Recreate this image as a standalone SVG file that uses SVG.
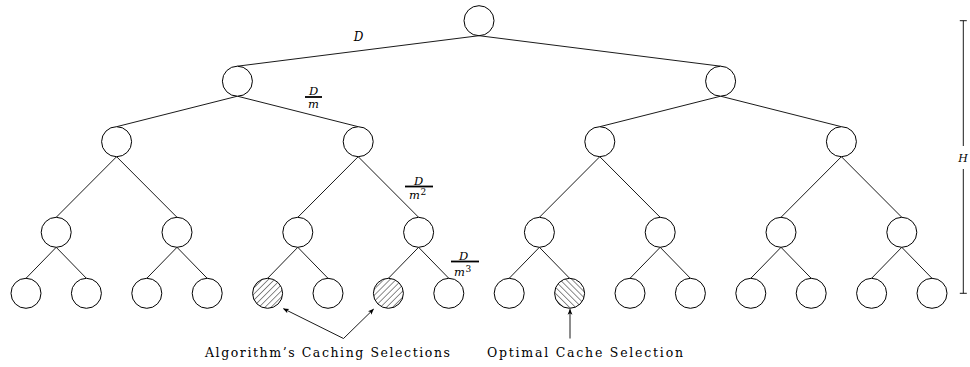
<svg xmlns="http://www.w3.org/2000/svg" width="970" height="367" viewBox="0 0 970 367">
<style>
.n{fill:#fff;stroke:#000;stroke-width:1}
.ne{fill:url(#hne);stroke:#000;stroke-width:1}
.nw{fill:url(#hnw);stroke:#000;stroke-width:1}
.e{stroke:#000;stroke-width:0.9;fill:none}
.m{font-family:"DejaVu Serif","Liberation Serif",serif;font-style:italic;fill:#000;text-anchor:middle}
.s{font-family:"DejaVu Serif","Liberation Serif",serif;fill:#000;text-anchor:start}
.t{font-family:"DejaVu Serif","Liberation Serif",serif;font-size:12.5px;fill:#000;text-anchor:middle}
.bar{stroke:#000;stroke-width:1.8}
.a{stroke:#000;stroke-width:0.9;fill:none;marker-end:url(#ah)}
</style>
<defs>
<pattern id="hne" patternUnits="userSpaceOnUse" width="4.3" height="4.3" patternTransform="rotate(45)">
<line x1="0" y1="0" x2="0" y2="4.3" stroke="#000" stroke-width="0.9"/>
</pattern>
<pattern id="hnw" patternUnits="userSpaceOnUse" width="4.3" height="4.3" patternTransform="rotate(-45)">
<line x1="0" y1="0" x2="0" y2="4.3" stroke="#000" stroke-width="0.9"/>
</pattern>
<marker id="ah" viewBox="0 0 10 10" refX="9" refY="5" markerWidth="6" markerHeight="6" orient="auto" markerUnits="userSpaceOnUse">
<path d="M0,1 L10,5 L0,9 L2.5,5 Z" fill="#000"/>
</marker>
</defs>
<g id="connectors">
<line class="e" x1="479" y1="35.7" x2="237.4" y2="66.2"/>
<line class="e" x1="479" y1="35.7" x2="720.6" y2="66.2"/>
<line class="e" x1="237.4" y1="96.2" x2="116.6" y2="126.7"/>
<line class="e" x1="237.4" y1="96.2" x2="358.2" y2="126.7"/>
<line class="e" x1="720.6" y1="96.2" x2="599.8" y2="126.7"/>
<line class="e" x1="720.6" y1="96.2" x2="841.4" y2="126.7"/>
<line class="e" x1="116.6" y1="156.7" x2="56.2" y2="217.3"/>
<line class="e" x1="116.6" y1="156.7" x2="177" y2="217.3"/>
<line class="e" x1="358.2" y1="156.7" x2="297.8" y2="217.3"/>
<line class="e" x1="358.2" y1="156.7" x2="418.6" y2="217.3"/>
<line class="e" x1="599.8" y1="156.7" x2="539.4" y2="217.3"/>
<line class="e" x1="599.8" y1="156.7" x2="660.2" y2="217.3"/>
<line class="e" x1="841.4" y1="156.7" x2="781" y2="217.3"/>
<line class="e" x1="841.4" y1="156.7" x2="901.8" y2="217.3"/>
<line class="e" x1="56.2" y1="247.3" x2="26" y2="278.3"/>
<line class="e" x1="56.2" y1="247.3" x2="86.4" y2="278.3"/>
<line class="e" x1="177" y1="247.3" x2="146.8" y2="278.3"/>
<line class="e" x1="177" y1="247.3" x2="207.2" y2="278.3"/>
<line class="e" x1="297.8" y1="247.3" x2="267.6" y2="278.3"/>
<line class="e" x1="297.8" y1="247.3" x2="328" y2="278.3"/>
<line class="e" x1="418.6" y1="247.3" x2="388.4" y2="278.3"/>
<line class="e" x1="418.6" y1="247.3" x2="448.8" y2="278.3"/>
<line class="e" x1="539.4" y1="247.3" x2="509.2" y2="278.3"/>
<line class="e" x1="539.4" y1="247.3" x2="569.6" y2="278.3"/>
<line class="e" x1="660.2" y1="247.3" x2="630" y2="278.3"/>
<line class="e" x1="660.2" y1="247.3" x2="690.4" y2="278.3"/>
<line class="e" x1="781" y1="247.3" x2="750.8" y2="278.3"/>
<line class="e" x1="781" y1="247.3" x2="811.2" y2="278.3"/>
<line class="e" x1="901.8" y1="247.3" x2="871.6" y2="278.3"/>
<line class="e" x1="901.8" y1="247.3" x2="932" y2="278.3"/>
<path class="a" d="M343.5,338.5 L283.5,308.7"/>
<path class="a" d="M343.5,338.5 L373.5,309.2"/>
<path class="a" d="M570,338.5 L570,309.3"/>
</g>
<g id="root"><circle class="n" cx="479" cy="20.7" r="15"/></g>
<g id="n1a"><circle class="n" cx="237.4" cy="81.2" r="15"/></g>
<g id="n1b"><circle class="n" cx="720.6" cy="81.2" r="15"/></g>
<g id="n2a"><circle class="n" cx="116.6" cy="141.7" r="15"/></g>
<g id="n2b"><circle class="n" cx="358.2" cy="141.7" r="15"/></g>
<g id="n2c"><circle class="n" cx="599.8" cy="141.7" r="15"/></g>
<g id="n2d"><circle class="n" cx="841.4" cy="141.7" r="15"/></g>
<g id="n3a"><circle class="n" cx="56.2" cy="232.3" r="15"/></g>
<g id="n3b"><circle class="n" cx="177" cy="232.3" r="15"/></g>
<g id="n3c"><circle class="n" cx="297.8" cy="232.3" r="15"/></g>
<g id="n3d"><circle class="n" cx="418.6" cy="232.3" r="15"/></g>
<g id="n3e"><circle class="n" cx="539.4" cy="232.3" r="15"/></g>
<g id="n3f"><circle class="n" cx="660.2" cy="232.3" r="15"/></g>
<g id="n3g"><circle class="n" cx="781" cy="232.3" r="15"/></g>
<g id="n3h"><circle class="n" cx="901.8" cy="232.3" r="15"/></g>
<g id="l00"><circle class="n" cx="26" cy="293.3" r="15"/></g>
<g id="l01"><circle class="n" cx="86.4" cy="293.3" r="15"/></g>
<g id="l02"><circle class="n" cx="146.8" cy="293.3" r="15"/></g>
<g id="l03"><circle class="n" cx="207.2" cy="293.3" r="15"/></g>
<g id="l04"><circle class="ne" cx="267.6" cy="293.3" r="15"/></g>
<g id="l05"><circle class="n" cx="328" cy="293.3" r="15"/></g>
<g id="l06"><circle class="ne" cx="388.4" cy="293.3" r="15"/></g>
<g id="l07"><circle class="n" cx="448.8" cy="293.3" r="15"/></g>
<g id="l08"><circle class="n" cx="509.2" cy="293.3" r="15"/></g>
<g id="l09"><circle class="nw" cx="569.6" cy="293.3" r="15"/></g>
<g id="l10"><circle class="n" cx="630" cy="293.3" r="15"/></g>
<g id="l11"><circle class="n" cx="690.4" cy="293.3" r="15"/></g>
<g id="l12"><circle class="n" cx="750.8" cy="293.3" r="15"/></g>
<g id="l13"><circle class="n" cx="811.2" cy="293.3" r="15"/></g>
<g id="l14"><circle class="n" cx="871.6" cy="293.3" r="15"/></g>
<g id="l15"><circle class="n" cx="932" cy="293.3" r="15"/></g>
<g id="labels">
<text class="m" x="358.5" y="41" font-size="12">D</text>
<text class="m" x="313.5" y="95" font-size="11.5">D</text>
<line class="bar" x1="305" y1="97" x2="322" y2="97"/>
<text class="m" x="313.5" y="107.5" font-size="11.5">m</text>
<text class="m" x="418.5" y="185" font-size="11.5">D</text>
<line class="bar" x1="405" y1="186.5" x2="433" y2="186.5"/>
<text class="m" x="414.5" y="198.5" font-size="11.5">m</text>
<text class="s" x="420.5" y="195" font-size="9">2</text>
<text class="m" x="463.5" y="260" font-size="11.5">D</text>
<line class="bar" x1="451" y1="261.5" x2="479" y2="261.5"/>
<text class="m" x="459.5" y="275.5" font-size="11.5">m</text>
<text class="s" x="465.5" y="272" font-size="9">3</text>
</g>
<g id="height">
<line class="e" x1="963.3" y1="20.7" x2="963.3" y2="146"/>
<line class="e" x1="963.3" y1="169" x2="963.3" y2="293.3"/>
<line class="e" x1="959.8" y1="20.7" x2="966.8" y2="20.7"/>
<line class="e" x1="959.8" y1="293.3" x2="966.8" y2="293.3"/>
<text class="m" x="963" y="162" font-size="11">H</text>
</g>
<g id="captions">
<text class="t" x="327.5" y="357" textLength="245" lengthAdjust="spacing">Algorithm’s Caching Selections</text>
<text class="t" x="585" y="357" textLength="196" lengthAdjust="spacing">Optimal Cache Selection</text>
</g>
</svg>
